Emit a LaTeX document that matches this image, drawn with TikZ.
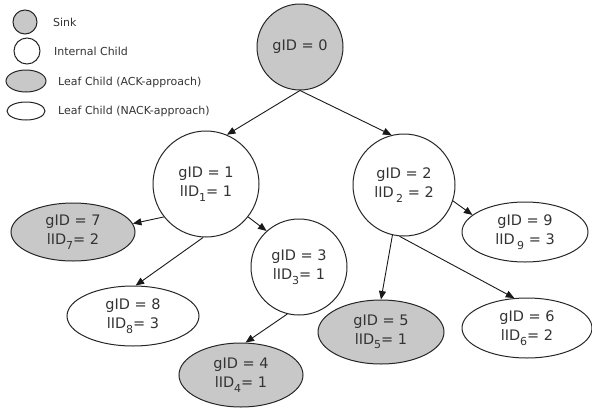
\documentclass[tikz,border=0pt]{standalone}
\usepackage{fontspec}
\setmainfont{DejaVu Sans}
\usetikzlibrary{arrows.meta,shapes.geometric}
\newcommand{\lsub}[1]{\raisebox{-4.5pt}{\fontsize{11}{11}\selectfont #1}}
\definecolor{fillg}{HTML}{C8C8C8}
\definecolor{txt}{HTML}{333333}
\tikzset{
  nodefont/.style={font=\fontsize{14.5}{19}\selectfont, text=txt, align=center},
  circ/.style={circle, draw=black!85, line width=1pt, minimum size=#1, inner sep=0pt, nodefont},
  ell/.style n args={2}{ellipse, draw=black!85, line width=1pt, minimum width=#1, minimum height=#2, inner sep=0pt, nodefont},
  gfill/.style={fill=fillg},
  edge/.style={draw=black!90, line width=0.9pt, -{Triangle[length=8.5pt,width=7pt]}},
  legtext/.style={anchor=west, font=\fontsize{11}{12}\selectfont, text=txt, inner sep=0pt},
}
\begin{document}
\begin{tikzpicture}[x=1pt,y=-1pt]
\useasboundingbox (0,0) rectangle (592,410);
% legend
\node[circ=24, gfill] (lsink) at (25,22) {};
\node[circ=26] (lint) at (27,51) {};
\node[ell={40}{22}, gfill] (lack) at (26,81) {};
\node[ell={38}{18}] (lnack) at (26,111) {};
\node[legtext] (tsink) at (53,22) {Sink};
\node[legtext] (tint) at (54,51) {Internal Child};
\node[legtext] (tack) at (58,82) {Leaf Child (ACK-approach)};
\node[legtext] (tnack) at (58,111) {Leaf Child (NACK-approach)};
% tree
\node[circ=86, gfill] (s) at (300,47) {gID = 0};
\node[circ=106] (n1) at (206,184) {gID = 1\\lID\lsub{1}= 1};
\node[circ=102] (n2) at (404,185) {gID = 2\\lID\,\lsub{2} = 2};
\node[circ=96] (n3) at (299,267) {gID = 3\\lID\lsub{3}= 1};
\node[ell={124}{58}, gfill] (n7) at (73,232) {gID = 7\\lID\lsub{7}= 2};
\node[ell={126}{60}] (n9) at (525,232) {gID = 9\\lID\,\lsub{9} = 3};
\node[ell={132}{60}] (n8) at (133,316) {gID = 8\\lID\lsub{8}= 3};
\node[ell={126}{64}, gfill] (n5) at (381,332) {gID = 5\\lID\lsub{5}= 1};
\node[ell={130}{60}] (n6) at (527,328) {gID = 6\\lID\lsub{6}= 2};
\node[ell={124}{64}, gfill] (n4) at (241,375) {gID = 4\\lID\lsub{4}= 1};
% edges
\draw[edge] (s.south) -- (n1.67);
\draw[edge] (s.south) -- (n2.104);
\draw[edge] (n1.218) -- (n7.8);
\draw[edge] (n1.-38) -- (n3.132);
\draw[edge] (n1.-93) -- (n8.85);
\draw[edge] (n3.-104) -- (n4.82);
\draw[edge] (n2.-18) -- (n9.162);
\draw[edge] (n2.-103) -- (n5.north);
\draw[edge] (n2.-95) -- (n6.113);
\end{tikzpicture}
\end{document}
